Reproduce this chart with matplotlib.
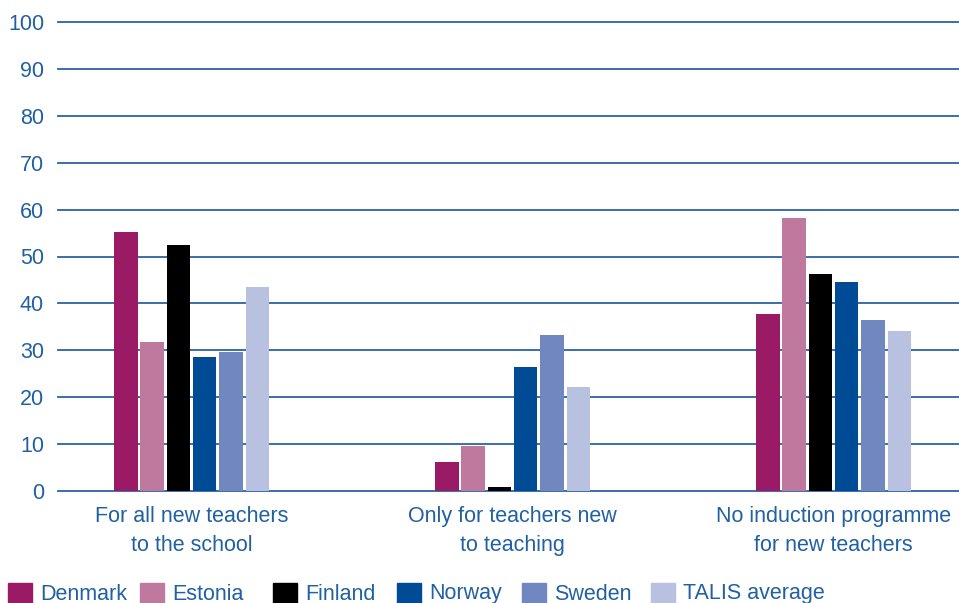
import matplotlib
matplotlib.use("Agg")
import matplotlib.pyplot as plt
from matplotlib.patches import Rectangle
import numpy as np

plt.rcParams['font.family'] = ['Liberation Sans', 'DejaVu Sans']

categories = ["For all new teachers\nto the school",
              "Only for teachers new\nto teaching",
              "No induction programme\nfor new teachers"]
countries = ["Denmark", "Estonia", "Finland", "Norway", "Sweden", "TALIS average"]
colors = ["#9B1A66", "#BF789E", "#000000", "#004B96", "#7087BF", "#B9C1E0"]

denmark = [55.2, 6.2, 37.7]
estonia = [31.8, 9.6, 58.2]
finland = [52.5, 0.9, 46.3]
norway = [28.6, 26.4, 44.6]
sweden = [29.7, 33.3, 36.5]
talis_avg = [43.5, 22.2, 34.1]
series = [denmark, estonia, finland, norway, sweden, talis_avg]

yticks = list(range(0, 101, 10))

text_color = "#2160A3"
grid_color = "#2B62A6"

fig = plt.figure(figsize=(9.59, 6.03), dpi=100)
ax = fig.add_axes([58 / 959, 1 - 491 / 603, 1 - 58 / 959, (491 - 22) / 603])

x = np.arange(len(categories))
step = 26.3 / 321
width = 23.5 / 321
for i, (vals, col) in enumerate(zip(series, colors)):
    ax.bar(x + (i - 2.5) * step, vals, width=width, color=col, zorder=3)

for v in yticks:
    ax.axhline(v, color=grid_color, lw=1.3, zorder=1, clip_on=False)

ax.set_ylim(0, 100)
ax.set_xlim(-0.416, -0.416 + 901 / 321)
ax.set_yticks(yticks)
ax.set_yticklabels([str(v) for v in yticks])
ax.set_xticks(x)
ax.set_xticklabels(categories, linespacing=1.5)
ax.tick_params(axis='both', length=0, colors=text_color, labelsize=15.5)
ax.tick_params(axis='y', pad=10)
ax.tick_params(axis='x', pad=11)
for s in ax.spines.values():
    s.set_visible(False)

# legend row along the bottom edge
legend_x = [8, 140, 273, 397, 522, 651]
for lx, name, col in zip(legend_x, countries, colors):
    fig.patches.append(Rectangle((lx / 959, 0), 24 / 959, 20 / 603,
                                 transform=fig.transFigure, color=col))
    fig.text((lx + 32) / 959, 1 - 594 / 603, name, color=text_color,
             fontsize=15.5, va='center', ha='left')

fig.savefig("out.png", dpi=100)
